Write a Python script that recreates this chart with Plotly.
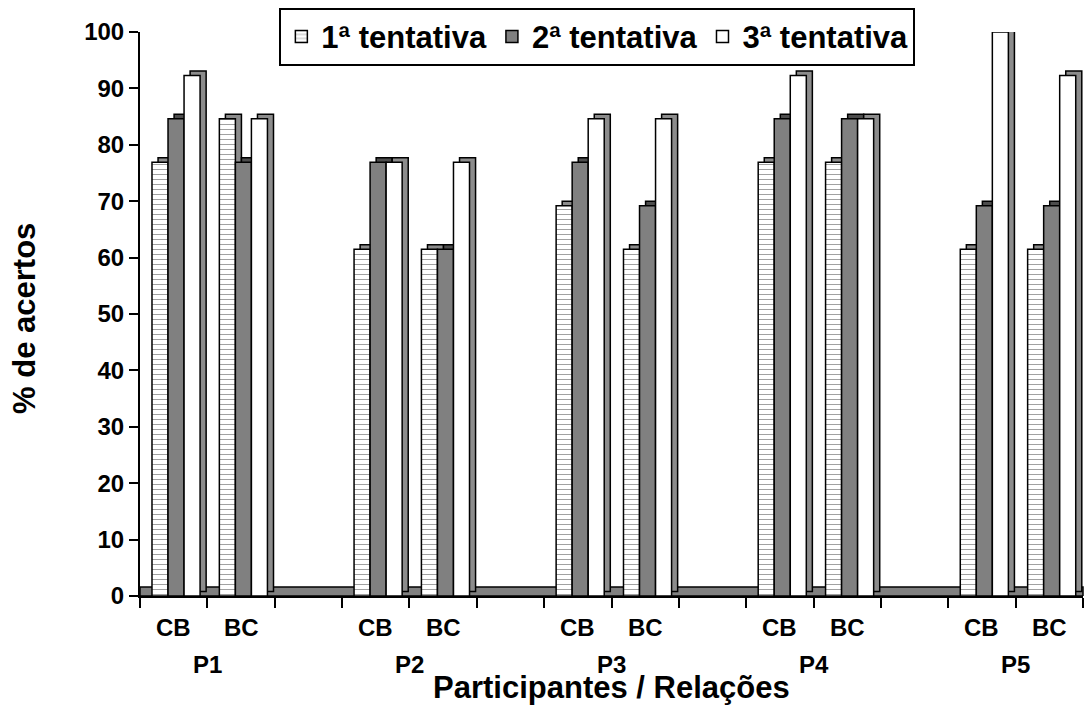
import plotly.graph_objects as go

# ---- data ----
slot_labels = ["CB", "BC", "", "CB", "BC", "", "CB", "BC", "", "CB", "BC", "", "CB", "BC"]
participants = ["P1", "P2", "P3", "P4", "P5"]
series_names = ["1ª tentativa", "2ª tentativa", "3ª tentativa"]
# values per slot (None for empty spacer slots)
t1 = [76.9, 84.6, None, 61.5, 61.5, None, 69.2, 61.5, None, 76.9, 76.9, None, 61.5, 61.5]
t2 = [84.6, 76.9, None, 76.9, 61.5, None, 76.9, 69.2, None, 84.6, 84.6, None, 69.2, 69.2]
t3 = [92.3, 84.6, None, 76.9, 76.9, None, 84.6, 84.6, None, 92.3, 84.6, None, 100.0, 92.3]
y_ticks = list(range(0, 101, 10))

FONT = "Liberation Sans, Arial, sans-serif"
x_pos = list(range(len(slot_labels)))
label_pos = [i for i, s in enumerate(slot_labels) if s]
label_txt = [s for s in slot_labels if s]
p_pos = [label_pos[2 * k] + 0.5 for k in range(len(participants))]
boundaries = [i - 0.5 for i in range(len(slot_labels) + 1)]

bar_w = 0.238
offsets = [-0.322, -0.084, 0.154]
depth_x = 0.09
depth_y = 0.8
face_colors = ["white", "#808080", "white"]
side_colors = ["#8c8c8c", "#4d4d4d", "#8c8c8c"]
values = [t1, t2, t3]

fig = go.Figure()

# 3D depth (side/top faces) drawn first
for vals, off, sc in zip(values, offsets, side_colors):
    fig.add_trace(go.Bar(
        x=x_pos, y=vals, base=depth_y,
        width=bar_w, offset=off + depth_x, cliponaxis=False,
        marker=dict(color=sc, line=dict(color="black", width=1.5)),
        showlegend=False, hoverinfo="skip",
    ))

# front faces
for i, (vals, off, fc, name) in enumerate(zip(values, offsets, face_colors, series_names)):
    marker = dict(color=fc, line=dict(color="black", width=1.5))
    if i == 0:
        marker["pattern"] = dict(shape="-", fgcolor="#444444", bgcolor="white",
                                 size=5, solidity=0.2)
    fig.add_trace(go.Bar(
        x=x_pos, y=vals, width=bar_w, offset=off, name=name, marker=marker,
        cliponaxis=False,
    ))

txt_font = dict(family=FONT, size=24, color="black", weight="bold")
title_font = dict(family=FONT, size=31, color="black", weight="bold")

# category labels
for lbl, xp in zip(label_txt, label_pos):
    fig.add_annotation(x=xp, y=-0.056, xref="x", yref="paper", text=lbl,
                       showarrow=False, yanchor="middle", font=txt_font)
# participant labels
for p, xp in zip(participants, p_pos):
    fig.add_annotation(x=xp, y=-0.122, xref="x", yref="paper", text=p,
                       showarrow=False, yanchor="middle", font=txt_font)
# axis titles
fig.add_annotation(x=0.5, y=-0.163, xref="paper", yref="paper",
                   text="Participantes / Relações", showarrow=False,
                   xanchor="center", yanchor="middle", font=title_font)
fig.add_annotation(x=-0.122, y=0.493, xref="paper", yref="paper",
                   text="% de acertos", showarrow=False, textangle=-90,
                   xanchor="center", yanchor="middle", font=title_font)

# floor
fig.add_shape(type="rect", xref="paper", yref="y", x0=0, x1=1, y0=0, y1=1.6,
              fillcolor="#808080", line=dict(color="black", width=1.5), layer="below")

fig.update_layout(
    width=1089, height=706,
    margin=dict(l=140, r=6, t=32, b=110),
    barmode="overlay",
    paper_bgcolor="white", plot_bgcolor="white",
    font=dict(family=FONT, color="black", weight="bold"),
    legend=dict(orientation="h", x=0.485, xanchor="center", y=1.043, yanchor="top",
                bordercolor="black", borderwidth=2, bgcolor="white",
                font=dict(family=FONT, size=31, color="black", weight="bold"),
                traceorder="normal"),
    xaxis=dict(
        range=[-0.5, 13.5], tickmode="array", tickvals=boundaries,
        ticktext=["" for _ in boundaries], ticks="outside", ticklen=10,
        tickwidth=2, tickcolor="black",
        showgrid=False, zeroline=False, showline=True, linecolor="black",
        linewidth=2,
    ),
    yaxis=dict(
        range=[0, 100], tickmode="array", tickvals=y_ticks, ticks="outside",
        ticklen=9, tickwidth=2, tickcolor="black", showgrid=False, zeroline=False,
        showline=True, linecolor="black", linewidth=2,
        tickfont=dict(family=FONT, size=24, color="black", weight="bold"),
    ),
)

fig.write_html("out.html")
